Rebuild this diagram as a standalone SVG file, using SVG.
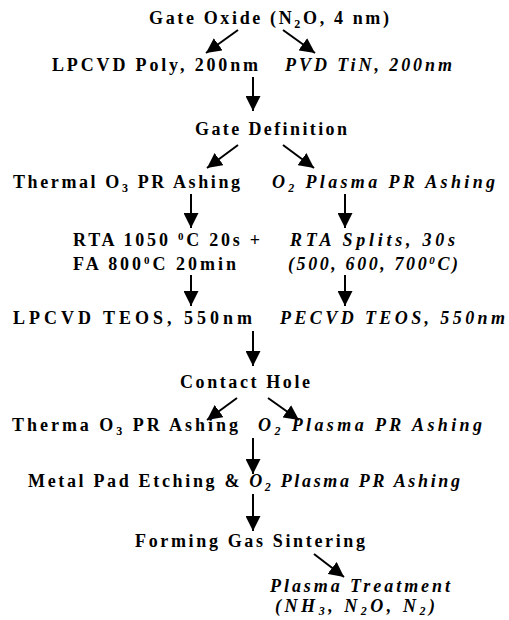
<svg xmlns="http://www.w3.org/2000/svg" width="509" height="620" viewBox="0 0 509 620">
<style>
text{font-family:"Liberation Serif","Times New Roman",serif;font-weight:bold;font-size:18px;fill:#000}
.i{font-style:italic}
.c{stroke:#000;stroke-width:2;fill:none;marker-end:url(#ah)}
</style>
<defs>
<marker id="ah" markerUnits="userSpaceOnUse" markerWidth="15" markerHeight="15" refX="15" refY="7.5" orient="auto">
<path d="M0,0 L15,7.5 L0,15 z" fill="#000"/>
</marker>
</defs>
<rect width="509" height="620" fill="#fff"/>
<g id="n1"><text x="149" y="24" textLength="240" lengthAdjust="spacing">Gate Oxide (N<tspan dy="4" font-size="12">2</tspan><tspan dy="-4">O, 4 nm)</tspan></text></g>
<g id="n2"><text x="52" y="71" textLength="206" lengthAdjust="spacing">LPCVD Poly, 200nm</text></g>
<g id="n3"><text class="i" x="285" y="71" textLength="167" lengthAdjust="spacing">PVD TiN, 200nm</text></g>
<g id="n4"><text x="195" y="135" textLength="152" lengthAdjust="spacing">Gate Definition</text></g>
<g id="n5"><text x="13" y="188" textLength="227" lengthAdjust="spacing">Thermal O<tspan dy="4" font-size="12">3</tspan><tspan dy="-4"> PR Ashing</tspan></text></g>
<g id="n6"><text class="i" x="272" y="188" textLength="223" lengthAdjust="spacing">O<tspan dy="4" font-size="12">2</tspan><tspan dy="-4"> Plasma PR Ashing</tspan></text></g>
<g id="n7"><text x="73" y="246" textLength="187" lengthAdjust="spacing">RTA 1050 <tspan dy="-6" font-size="11">0</tspan><tspan dy="6">C 20s +</tspan></text>
<text x="73" y="270" textLength="163" lengthAdjust="spacing">FA 800<tspan dy="-6" font-size="11">0</tspan><tspan dy="6">C 20min</tspan></text></g>
<g id="n8"><text class="i" x="290" y="246" textLength="165" lengthAdjust="spacing">RTA Splits, 30s</text>
<text class="i" x="288" y="270" textLength="170" lengthAdjust="spacing">(500, 600, 700<tspan dy="-6" font-size="11">0</tspan><tspan dy="6">C)</tspan></text></g>
<g id="n9"><text x="13" y="324" textLength="239" lengthAdjust="spacing">LPCVD TEOS, 550nm</text></g>
<g id="n10"><text class="i" x="280" y="324" textLength="225" lengthAdjust="spacing">PECVD TEOS, 550nm</text></g>
<g id="n11"><text x="180" y="388" textLength="130" lengthAdjust="spacing">Contact Hole</text></g>
<g id="n12"><text x="12" y="431" textLength="226" lengthAdjust="spacing">Therma O<tspan dy="4" font-size="12">3</tspan><tspan dy="-4"> PR Ashing</tspan></text></g>
<g id="n13"><text class="i" x="258" y="431" textLength="224" lengthAdjust="spacing">O<tspan dy="4" font-size="12">2</tspan><tspan dy="-4"> Plasma PR Ashing</tspan></text></g>
<g id="n14"><text x="28" y="487" textLength="432" lengthAdjust="spacing">Metal Pad Etching &amp; <tspan class="i">O</tspan><tspan class="i" dy="4" font-size="12">2</tspan><tspan class="i" dy="-4"> Plasma PR Ashing</tspan></text></g>
<g id="n15"><text x="135" y="547" textLength="230" lengthAdjust="spacing">Forming Gas Sintering</text></g>
<g id="n16"><text class="i" x="270" y="592" textLength="180" lengthAdjust="spacing">Plasma Treatment</text>
<text class="i" x="275" y="612" textLength="160" lengthAdjust="spacing">(NH<tspan dy="3" font-size="12">3</tspan><tspan dy="-3">, N</tspan><tspan dy="3" font-size="12">2</tspan><tspan dy="-3">O, N</tspan><tspan dy="3" font-size="12">2</tspan><tspan dy="-3">)</tspan></text></g>
<g id="connectors">
<line class="c" x1="238" y1="30" x2="206" y2="53"/>
<line class="c" x1="283" y1="30" x2="315" y2="53"/>
<line class="c" x1="253" y1="77" x2="253" y2="111"/>
<line class="c" x1="238" y1="145" x2="207" y2="168"/>
<line class="c" x1="283" y1="145" x2="314" y2="168"/>
<line class="c" x1="191" y1="194" x2="191" y2="228"/>
<line class="c" x1="345" y1="194" x2="345" y2="228"/>
<line class="c" x1="191" y1="275" x2="191" y2="306"/>
<line class="c" x1="345" y1="275" x2="345" y2="306"/>
<line class="c" x1="253" y1="331" x2="253" y2="366"/>
<line class="c" x1="237" y1="398" x2="207" y2="420"/>
<line class="c" x1="268" y1="398" x2="299" y2="420"/>
<line class="c" x1="253" y1="438" x2="253" y2="474"/>
<line class="c" x1="253" y1="494" x2="253" y2="531"/>
<line class="c" x1="314" y1="554" x2="344" y2="577"/>
</g>
</svg>
